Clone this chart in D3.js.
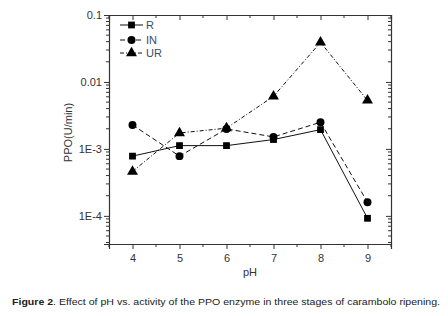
<!DOCTYPE html>
<html><head><meta charset="utf-8">
<script src="https://cdn.jsdelivr.net/npm/d3@7"></script>
<style>body{margin:0;background:#fff}svg{display:block}text{font-family:"Liberation Sans",Arial,sans-serif}</style>
</head><body><svg id="c" width="448" height="316"></svg>
<script>
const pH = [4, 5, 6, 7, 8, 9];
const seriesR  = [7.8e-4, 1.12e-3, 1.12e-3, 1.38e-3, 1.94e-3, 9.2e-5];
const seriesIN = [2.28e-3, 7.8e-4, 1.99e-3, 1.51e-3, 2.5e-3, 1.6e-4];
const seriesUR = [4.6e-4, 1.73e-3, 2.04e-3, 6.1e-3, 3.9e-2, 5.3e-3];
const seriesNames = ["R", "IN", "UR"];
const yTickValues = [1e-4, 1e-3, 1e-2, 1e-1];
const yTickLabels = ["1E-4", "1E-3", "0.01", "0.1"];
const xTickValues = [4, 5, 6, 7, 8, 9];

const svg = d3.select("#c");
const L = 109, R = 391, T = 15, B = 244;
const x = d3.scaleLinear().domain([3.5, 9.5]).range([L, R]);
const y = d3.scaleLog().domain([3.8e-5, 0.1]).range([B, T]);
const txt = "#333";

// minor ticks
const minorY = [];
for (let e = -5; e <= -2; e++) for (let m = 2; m <= 9; m++) { const v = m * Math.pow(10, e); if (v >= 3.8e-5 && v <= 0.1) minorY.push(v); }
const minorX = [3.5, 4.5, 5.5, 6.5, 7.5, 8.5, 9.5];

const g = svg.append("g");
// left axis
const ax = d3.axisLeft(y).tickValues(yTickValues).tickFormat((d, i) => yTickLabels[i]).tickSize(5).tickPadding(2);
const gl = g.append("g").attr("transform", `translate(${L},0)`).call(ax);
gl.append("g").selectAll("line").data(minorY).join("line").attr("x1", 0).attr("x2", -3).attr("y1", d => y(d)).attr("y2", d => y(d)).attr("stroke", "#333");
// right axis inward
const gr = g.append("g").attr("transform", `translate(${R},0)`).call(d3.axisLeft(y).tickValues(yTickValues).tickFormat("").tickSize(5));
gr.append("g").selectAll("line").data(minorY).join("line").attr("x1", 0).attr("x2", -3).attr("y1", d => y(d)).attr("y2", d => y(d)).attr("stroke", "#333");
// bottom axis
const gb = g.append("g").attr("transform", `translate(0,${B})`).call(d3.axisBottom(x).tickValues(xTickValues).tickFormat(d3.format("d")).tickSize(5).tickPadding(5));
gb.append("g").selectAll("line").data(minorX).join("line").attr("x1", d => x(d)).attr("x2", d => x(d)).attr("y1", 0).attr("y2", 3).attr("stroke", "#333");
// top axis inward
const gt = g.append("g").attr("transform", `translate(0,${T})`).call(d3.axisBottom(x).tickValues(xTickValues).tickFormat("").tickSize(5));
gt.append("g").selectAll("line").data(minorX).join("line").attr("x1", d => x(d)).attr("x2", d => x(d)).attr("y1", 0).attr("y2", 3).attr("stroke", "#333");

g.selectAll(".domain").attr("stroke", "#333").attr("stroke-width", 1.2);
g.selectAll(".tick line").attr("stroke", "#333");
g.selectAll(".tick text").attr("fill", txt).style("font-size", "11px").style("font-family", "Liberation Sans, Arial, sans-serif");

// axis labels
svg.append("text").attr("transform", `translate(72,${(T + B) / 2 + 3}) rotate(-90)`).attr("text-anchor", "middle").attr("fill", txt).style("font-size", "11px").text("PPO(U/min)");
svg.append("text").attr("x", x(6.5)).attr("y", 276).attr("text-anchor", "middle").attr("fill", txt).style("font-size", "11px").text("pH");

// series
const data = [seriesR, seriesIN, seriesUR];
const dashes = [null, "5,3", "4,2,1,2"];
const line = d3.line().x((d, i) => x(pH[i])).y(d => y(d));
const sym = [d3.symbolSquare, d3.symbolCircle, d3.symbolTriangle];
const symSize = [46, 50, 52];
data.forEach((s, k) => {
  svg.append("path").datum(s).attr("d", line).attr("fill", "none").attr("stroke", "#111").attr("stroke-width", 1).attr("stroke-dasharray", dashes[k]);
  svg.append("g").selectAll("path").data(s).join("path")
    .attr("transform", (d, i) => `translate(${x(pH[i])},${y(d)})`)
    .attr("d", d3.symbol().type(sym[k]).size(symSize[k])).attr("fill", "#000");
});

// legend
const legY = [25, 40, 53];
seriesNames.forEach((n, k) => {
  svg.append("line").attr("x1", 120).attr("x2", 143).attr("y1", legY[k]).attr("y2", legY[k]).attr("stroke", "#111").attr("stroke-dasharray", dashes[k]);
  svg.append("path").attr("transform", `translate(131.5,${legY[k]})`).attr("d", d3.symbol().type(sym[k]).size(symSize[k])).attr("fill", "#000");
  svg.append("text").attr("x", 146).attr("y", legY[k] + 4).attr("fill", "#3a4a6a").style("font-size", "11px").text(n);
});

// caption
const cap = svg.append("text").attr("x", 12).attr("y", 305).attr("fill", "#222").style("font-size", "9.5px").attr("textLength", 428).attr("lengthAdjust", "spacingAndGlyphs");
cap.append("tspan").style("font-weight", "bold").text("Figure 2");
cap.append("tspan").text(". Effect of pH vs. activity of the PPO enzyme in three stages of carambolo ripening.");
</script></body></html>
